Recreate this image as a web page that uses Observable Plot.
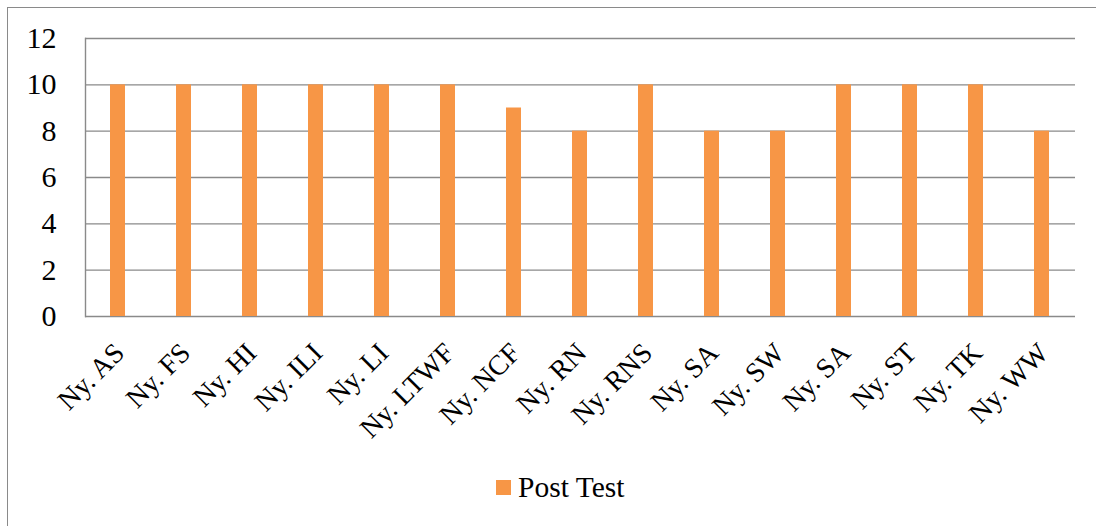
<!DOCTYPE html>
<html>
<head>
<meta charset="utf-8">
<script src="https://cdn.jsdelivr.net/npm/d3@7"></script>
<script src="https://cdn.jsdelivr.net/npm/@observablehq/plot@0.6"></script>
<style>
  html, body { margin: 0; padding: 0; background: #fff; }
  #wrap { position: relative; width: 1096px; height: 526px; overflow: hidden; background: #fff; font-family: 'Liberation Serif', 'Times New Roman', Times, 'Nimbus Roman', 'DejaVu Serif', serif; }
  #border { position: absolute; left: 7px; top: 7px; width: 1200px; height: 700px; border-left: 1.5px solid #8a8a8a; border-top: 1.5px solid #8a8a8a; }
  #chart { position: absolute; left: 0; top: 0; }
  #chart svg text { font-family: 'Liberation Serif', 'Times New Roman', Times, 'Nimbus Roman', 'DejaVu Serif', serif; }
  #legend { position: absolute; left: 496px; top: 471px; display: flex; align-items: center; font-size: 29.5px; color: #000; white-space: nowrap; }
  #legend .sw { width: 15px; height: 15px; background: #F79646; margin-right: 7px; }
</style>
</head>
<body>
<div id="wrap">
  <div id="border"></div>
  <div id="chart"></div>
  <div id="legend"><span class="sw"></span><span>Post Test</span></div>
</div>
<script>
const categories = ["Ny. AS", "Ny. FS", "Ny. HI", "Ny. ILI", "Ny. LI", "Ny. LTWF", "Ny. NCF", "Ny. RN", "Ny. RNS", "Ny. SA", "Ny. SW", "Ny. SA", "Ny. ST", "Ny. TK", "Ny. WW"];
const postTest = [10, 10, 10, 10, 10, 10, 9, 8, 10, 8, 8, 10, 10, 10, 8];
const yTicks = [0, 2, 4, 6, 8, 10, 12];
const seriesName = "Post Test";

const data = categories.map((c, i) => ({i, c, v: postTest[i]}));

const chart = Plot.plot({
  width: 1096,
  height: 460,
  marginLeft: 85,
  marginRight: 21,
  marginTop: 38,
  marginBottom: 144,
  style: {fontSize: "28px", color: "#000", background: "transparent"},
  x: {type: "band", domain: d3.range(categories.length), paddingInner: 0.77, paddingOuter: 0.385},
  y: {domain: [0, 12]},
  marks: [
    Plot.gridY(yTicks, {stroke: "#8a8a8a", strokeOpacity: 1, strokeWidth: 1.4}),
    Plot.frame({anchor: "left", stroke: "#8a8a8a", strokeWidth: 1.4}),
    Plot.barY(data, {x: "i", y: "v", fill: "#F79646"}),
    Plot.axisY(yTicks, {tickSize: 0, tickPadding: 29, label: null, fontSize: 30}),
    Plot.axisX({tickSize: 0, tickRotate: -45, textAnchor: "end", lineAnchor: "top", tickPadding: 24, dx: -6, label: null, tickFormat: i => categories[i], fontSize: 28})
  ]
});
document.getElementById("chart").appendChild(chart);
</script>
</body>
</html>
